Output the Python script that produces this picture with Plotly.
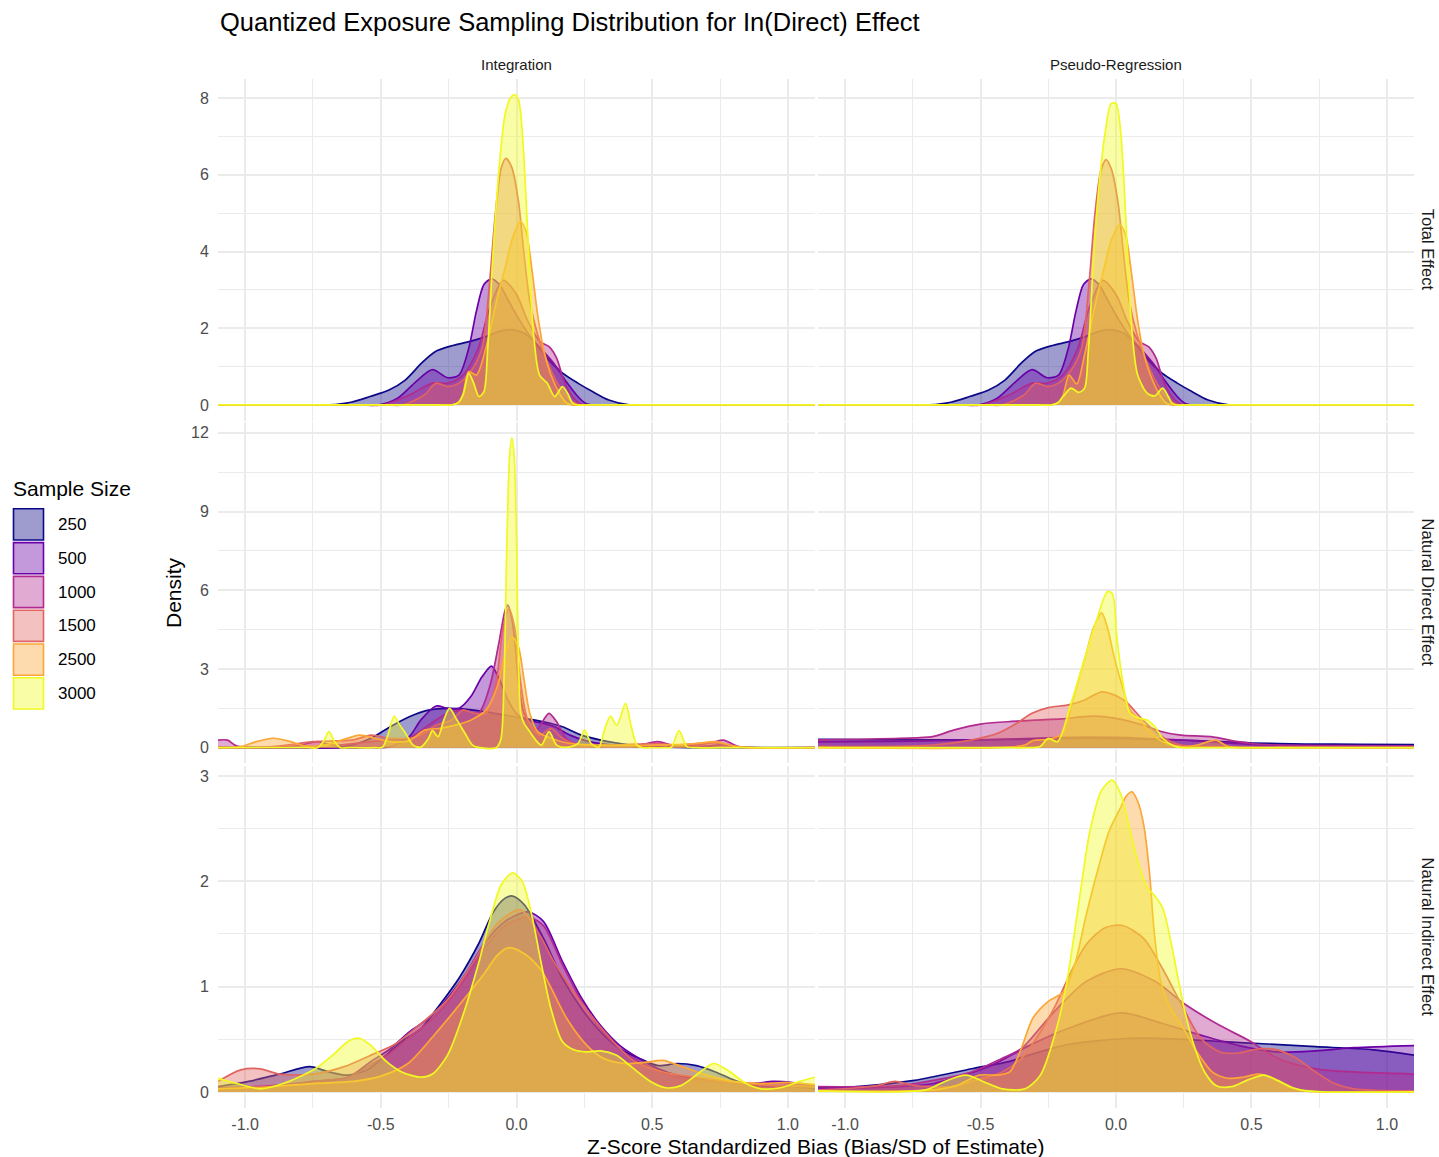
import plotly.graph_objects as go

W, H = 1439, 1157

# ---------------- data ----------------
SAMPLE_SIZES = ["250", "500", "1000", "1500", "2500", "3000"]
COLORS = ["#0D0887", "#6A00A8", "#B12A90", "#E16462", "#FCA636", "#F0F921"]
FILL_ALPHA = 0.4

COLUMNS = ["Integration", "Pseudo-Regression"]
ROWS = ["Total Effect", "Natural Direct Effect", "Natural Indirect Effect"]

X_TICKS = [-1.0, -0.5, 0.0, 0.5, 1.0]
X_TICK_LABELS = ["-1.0", "-0.5", "0.0", "0.5", "1.0"]
X_MINOR = [-0.75, -0.25, 0.25, 0.75]
Y_TICKS_TE = [0, 2, 4, 6, 8]
Y_MINOR_TE = [1, 3, 5, 7]
Y_TICKS_NDE = [0, 3, 6, 9, 12]
Y_MINOR_NDE = [1.5, 4.5, 7.5, 10.5]
Y_TICKS_NIE = [0, 1, 2, 3]
Y_MINOR_NIE = [0.5, 1.5, 2.5]

# ---- Total Effect / Integration : (bias z-score, density)
TE_INT_250 = [(-1.1, 0), (-0.8, 0), (-0.69, 0), (-0.61, 0.07), (-0.54, 0.22), (-0.47, 0.39), (-0.41, 0.65),
              (-0.35, 1.09), (-0.30, 1.39), (-0.24, 1.54), (-0.17, 1.66), (-0.11, 1.79), (-0.056, 1.93),
              (-0.014, 1.96), (0.028, 1.87), (0.07, 1.61), (0.113, 1.22), (0.17, 0.83), (0.226, 0.57),
              (0.28, 0.35), (0.34, 0.13), (0.41, 0.01), (0.47, 0), (0.8, 0), (1.1, 0)]
TE_INT_500 = [(-1.1, 0), (-0.58, 0), (-0.51, 0), (-0.44, 0.17), (-0.37, 0.61), (-0.31, 0.92), (-0.254, 0.71),
              (-0.212, 0.78), (-0.176, 1.48), (-0.148, 2.44), (-0.12, 3.14), (-0.092, 3.29), (-0.063, 3.14),
              (-0.028, 2.70), (0.014, 2.18), (0.056, 1.74), (0.10, 1.39), (0.141, 1.05), (0.183, 0.61),
              (0.226, 0.22), (0.255, 0.04), (0.28, 0.0), (0.33, 0), (0.8, 0), (1.1, 0)]
TE_INT_1000 = [(-1.1, 0), (-0.56, 0), (-0.494, 0), (-0.395, 0.26), (-0.31, 0.57), (-0.254, 0.57), (-0.197, 0.78),
               (-0.141, 1.48), (-0.099, 2.53), (-0.049, 3.25), (0.0, 2.88), (0.042, 2.18), (0.085, 1.66),
               (0.12, 1.52), (0.148, 1.22), (0.176, 0.61), (0.212, 0.17), (0.24, 0.02), (0.26, 0), (0.31, 0),
               (0.8, 0), (1.1, 0)]
TE_INT_1500 = [(-1.1, 0), (-0.48, 0), (-0.42, 0), (-0.34, 0.26), (-0.296, 0.57), (-0.254, 0.48), (-0.212, 0.57),
               (-0.169, 0.87), (-0.127, 1.48), (-0.099, 3.22), (-0.078, 4.97), (-0.056, 6.19), (-0.039, 6.43),
               (-0.017, 6.19), (0.007, 5.32), (0.028, 3.92), (0.049, 2.70), (0.078, 1.83), (0.113, 1.13),
               (0.155, 0.52), (0.197, 0.13), (0.225, 0.02), (0.245, 0), (0.3, 0), (0.8, 0), (1.1, 0)]
TE_INT_2500 = [(-1.1, 0), (-0.29, 0), (-0.24, 0), (-0.215, 0.06), (-0.197, 0.30), (-0.176, 0.87), (-0.148, 0.78),
               (-0.113, 1.48), (-0.071, 2.79), (-0.042, 3.57), (-0.014, 4.36), (0.014, 4.79), (0.035, 4.53),
               (0.056, 3.57), (0.078, 2.35), (0.099, 1.48), (0.127, 0.78), (0.162, 0.26), (0.185, 0.05),
               (0.205, 0), (0.25, 0), (0.8, 0), (1.1, 0)]
TE_INT_3000 = [(-1.1, 0), (-0.29, 0), (-0.24, 0), (-0.215, 0.06), (-0.197, 0.26), (-0.176, 0.83), (-0.158, 0.57),
               (-0.138, 0.22), (-0.12, 0.35), (-0.106, 1.48), (-0.085, 4.10), (-0.063, 6.27), (-0.042, 7.58),
               (-0.021, 8.02), (-0.007, 8.09), (0.007, 7.97), (0.021, 7.15), (0.035, 5.40), (0.049, 3.40),
               (0.063, 1.83), (0.085, 0.78), (0.113, 0.57), (0.141, 0.22), (0.169, 0.48), (0.19, 0.28),
               (0.205, 0.06), (0.222, 0), (0.26, 0), (0.8, 0), (1.1, 0)]

# ---- Total Effect / Pseudo-Regression
TE_PR_250 = [(-1.1, 0), (-0.8, 0), (-0.69, 0), (-0.61, 0.07), (-0.54, 0.22), (-0.47, 0.39), (-0.41, 0.65),
             (-0.35, 1.09), (-0.30, 1.39), (-0.24, 1.54), (-0.17, 1.66), (-0.11, 1.79), (-0.056, 1.93),
             (-0.014, 1.96), (0.028, 1.87), (0.07, 1.61), (0.113, 1.22), (0.17, 0.83), (0.226, 0.57),
             (0.28, 0.35), (0.34, 0.13), (0.41, 0.01), (0.47, 0), (0.8, 0), (1.1, 0)]
TE_PR_500 = [(-1.1, 0), (-0.58, 0), (-0.51, 0), (-0.44, 0.17), (-0.37, 0.61), (-0.31, 0.92), (-0.254, 0.71),
             (-0.212, 0.78), (-0.176, 1.48), (-0.148, 2.44), (-0.12, 3.14), (-0.092, 3.29), (-0.063, 3.14),
             (-0.028, 2.70), (0.014, 2.18), (0.056, 1.74), (0.10, 1.39), (0.141, 1.05), (0.183, 0.61),
             (0.226, 0.22), (0.255, 0.04), (0.28, 0.0), (0.33, 0), (0.8, 0), (1.1, 0)]
TE_PR_1000 = [(-1.1, 0), (-0.56, 0), (-0.494, 0), (-0.395, 0.26), (-0.31, 0.57), (-0.254, 0.57), (-0.197, 0.78),
              (-0.141, 1.48), (-0.099, 2.53), (-0.049, 3.25), (0.0, 2.88), (0.042, 2.18), (0.085, 1.66),
              (0.12, 1.52), (0.148, 1.22), (0.176, 0.61), (0.212, 0.17), (0.24, 0.02), (0.26, 0), (0.31, 0),
              (0.8, 0), (1.1, 0)]
TE_PR_1500 = [(-1.1, 0), (-0.48, 0), (-0.42, 0), (-0.34, 0.26), (-0.296, 0.57), (-0.254, 0.48), (-0.212, 0.57),
              (-0.169, 0.87), (-0.127, 1.48), (-0.099, 3.22), (-0.078, 4.97), (-0.056, 6.10), (-0.037, 6.40),
              (-0.017, 6.15), (0.007, 5.30), (0.028, 3.92), (0.049, 2.70), (0.078, 1.83), (0.113, 1.13),
              (0.155, 0.52), (0.197, 0.13), (0.225, 0.02), (0.245, 0), (0.3, 0), (0.8, 0), (1.1, 0)]
TE_PR_2500 = [(-1.1, 0), (-0.29, 0), (-0.24, 0), (-0.213, 0.06), (-0.195, 0.26), (-0.173, 0.78), (-0.145, 0.55),
              (-0.116, 1.31), (-0.074, 2.70), (-0.046, 3.50), (-0.017, 4.30), (0.014, 4.70), (0.035, 4.45),
              (0.056, 3.50), (0.078, 2.30), (0.099, 1.45), (0.127, 0.78), (0.162, 0.26), (0.185, 0.05),
              (0.205, 0), (0.25, 0), (0.8, 0), (1.1, 0)]
TE_PR_3000 = [(-1.1, 0), (-0.29, 0), (-0.24, 0), (-0.215, 0.06), (-0.195, 0.22), (-0.166, 0.44), (-0.138, 0.33),
              (-0.116, 0.44), (-0.103, 1.31), (-0.082, 3.92), (-0.061, 5.84), (-0.039, 7.15), (-0.018, 7.86),
              (0.0, 7.86), (0.017, 7.15), (0.031, 5.58), (0.045, 3.57), (0.059, 1.92), (0.080, 0.78),
              (0.116, 0.30), (0.144, 0.24), (0.172, 0.44), (0.193, 0.22), (0.207, 0.04), (0.222, 0),
              (0.26, 0), (0.8, 0), (1.1, 0)]

# ---- Natural Direct Effect / Integration
NDE_INT_250 = [(-1.1, 0), (-0.76, 0), (-0.68, 0.0), (-0.606, 0.10), (-0.536, 0.36), (-0.465, 0.80),
               (-0.395, 1.18), (-0.324, 1.43), (-0.254, 1.50), (-0.183, 1.46), (-0.113, 1.37), (-0.042, 1.24),
               (0.028, 1.12), (0.099, 0.99), (0.169, 0.80), (0.24, 0.48), (0.31, 0.29), (0.381, 0.16),
               (0.451, 0.08), (0.52, 0.04), (0.6, 0.01), (0.7, 0), (1.1, 0)]
NDE_INT_500 = [(-1.1, 0), (-0.55, 0), (-0.465, 0.04), (-0.395, 0.42), (-0.353, 1.05), (-0.296, 1.59),
               (-0.254, 1.50), (-0.212, 1.50), (-0.169, 1.94), (-0.127, 2.70), (-0.092, 3.11), (-0.063, 2.60),
               (-0.035, 1.90), (0.0, 1.30), (0.042, 1.05), (0.099, 0.93), (0.141, 0.80), (0.197, 0.48),
               (0.254, 0.27), (0.31, 0.16), (0.38, 0.08), (0.5, 0.04), (0.7, 0.06), (0.76, 0.12), (0.82, 0.02),
               (0.87, 0), (1.1, 0)]
NDE_INT_1000 = [(-1.1, 0.29), (-1.065, 0.29), (-1.03, 0.06), (-0.818, 0.06), (-0.733, 0.23), (-0.677, 0.10),
                (-0.536, 0.23), (-0.465, 0.29), (-0.395, 0.36), (-0.324, 0.86), (-0.254, 1.31), (-0.197, 1.43),
                (-0.141, 1.31), (-0.099, 2.32), (-0.063, 4.10), (-0.042, 5.24), (-0.032, 5.43), (-0.014, 4.73),
                (0.007, 2.58), (0.028, 1.31), (0.071, 0.67), (0.099, 1.05), (0.12, 1.31), (0.148, 0.99),
                (0.183, 0.36), (0.24, 0.10), (0.45, 0.10), (0.52, 0.23), (0.59, 0.06), (0.72, 0.19),
                (0.762, 0.29), (0.818, 0.04), (0.87, 0), (1.1, 0)]
NDE_INT_1500 = [(-1.1, 0), (-0.9, 0.04), (-0.748, 0.23), (-0.606, 0.29), (-0.536, 0.48), (-0.465, 0.36),
                (-0.367, 0.42), (-0.296, 0.86), (-0.24, 1.05), (-0.197, 1.43), (-0.155, 1.31), (-0.113, 1.31),
                (-0.078, 2.32), (-0.049, 4.60), (-0.028, 5.30), (-0.007, 4.60), (0.014, 2.58), (0.042, 1.05),
                (0.085, 0.48), (0.127, 0.74), (0.169, 0.36), (0.24, 0.10), (0.522, 0.16), (0.592, 0.10),
                (0.733, 0.19), (0.818, 0.04), (0.87, 0), (1.1, 0)]
NDE_INT_2500 = [(-1.1, 0), (-1.016, 0.04), (-0.959, 0.23), (-0.896, 0.36), (-0.832, 0.23), (-0.776, 0.06),
                (-0.705, 0.10), (-0.649, 0.27), (-0.578, 0.48), (-0.522, 0.36), (-0.465, 0.23), (-0.395, 0.27),
                (-0.339, 0.67), (-0.282, 0.74), (-0.226, 0.86), (-0.169, 1.05), (-0.113, 1.43), (-0.071, 2.32),
                (-0.042, 3.59), (-0.017, 4.22), (0.007, 3.84), (0.028, 2.58), (0.049, 1.31), (0.078, 0.61),
                (0.127, 0.36), (0.197, 0.16), (0.31, 0.10), (0.522, 0.10), (0.663, 0.16), (0.733, 0.23),
                (0.80, 0.06), (0.85, 0), (1.1, 0)]
NDE_INT_3000 = [(-1.1, 0), (-0.77, 0), (-0.733, 0), (-0.712, 0.23), (-0.691, 0.61), (-0.670, 0.23),
                (-0.649, 0), (-0.62, 0), (-0.52, 0), (-0.494, 0.02), (-0.472, 0.55), (-0.451, 1.20),
                (-0.43, 0.86), (-0.409, 0.55), (-0.381, 0.10), (-0.353, 0.02), (-0.324, 0.36), (-0.31, 0.65),
                (-0.289, 0.42), (-0.268, 1.05), (-0.247, 1.50), (-0.219, 1.05), (-0.19, 0.55), (-0.162, 0.10),
                (-0.135, 0), (-0.075, 0), (-0.058, 0.3), (-0.045, 3.0), (-0.035, 8.0), (-0.025, 11.2),
                (-0.017, 11.81), (-0.009, 11.2), (0.0, 8.0), (0.008, 3.0), (0.016, 1.3), (0.028, 0.93),
                (0.049, 0.61), (0.071, 0.29), (0.092, 0.10), (0.12, 0.61), (0.148, 0.10), (0.183, 0.01),
                (0.226, 0.16), (0.251, 0.67), (0.275, 0.16), (0.303, 0.02), (0.324, 0.67), (0.346, 1.20),
                (0.37, 0.86), (0.402, 1.69), (0.423, 0.80), (0.444, 0.10), (0.465, 0), (0.49, 0), (0.55, 0),
                (0.571, 0.02), (0.599, 0.65), (0.628, 0.04), (0.66, 0), (0.75, 0), (1.1, 0)]

# ---- Natural Direct Effect / Pseudo-Regression
NDE_PR_250 = [(-1.1, 0.32), (-0.8, 0.30), (-0.5, 0.30), (-0.3, 0.33), (-0.1, 0.36), (0.1, 0.33), (0.3, 0.27),
              (0.5, 0.18), (0.7, 0.14), (0.9, 0.13), (1.1, 0.12)]
NDE_PR_500 = [(-1.1, 0.22), (-0.8, 0.24), (-0.5, 0.30), (-0.3, 0.36), (-0.1, 0.40), (0.1, 0.36), (0.3, 0.26),
              (0.5, 0.13), (0.7, 0.09), (0.9, 0.08), (1.1, 0.07)]
NDE_PR_1000 = [(-1.1, 0.30), (-0.8, 0.36), (-0.677, 0.42), (-0.6, 0.67), (-0.5, 0.90), (-0.4, 0.99),
               (-0.3, 1.05), (-0.2, 1.10), (-0.085, 1.20), (0.0, 1.12), (0.1, 0.86), (0.17, 0.61),
               (0.24, 0.48), (0.35, 0.42), (0.45, 0.23), (0.5, 0.16), (0.6, 0.10), (0.8, 0.08), (1.1, 0.06)]
NDE_PR_1500 = [(-1.1, 0.04), (-0.677, 0.10), (-0.536, 0.29), (-0.437, 0.55), (-0.367, 0.93), (-0.31, 1.31),
               (-0.25, 1.53), (-0.18, 1.62), (-0.12, 1.80), (-0.05, 2.13), (0.03, 1.81), (0.1, 1.05),
               (0.17, 0.42), (0.24, 0.10), (0.35, 0.04), (0.6, 0.01), (1.1, 0.0)]
NDE_PR_2500 = [(-1.1, 0), (-0.45, 0), (-0.336, 0.10), (-0.307, 0.27), (-0.25, 0.32), (-0.195, 0.55),
               (-0.16, 1.81), (-0.11, 3.59), (-0.082, 4.60), (-0.053, 5.14), (-0.032, 4.60), (-0.004, 3.33),
               (0.024, 2.32), (0.052, 1.43), (0.088, 1.05), (0.13, 0.55), (0.173, 0.23), (0.24, 0.04),
               (0.3, 0.10), (0.368, 0.29), (0.41, 0.06), (0.45, 0.0), (0.6, 0), (1.1, 0)]
NDE_PR_3000 = [(-1.1, 0), (-0.4, 0), (-0.336, 0), (-0.28, 0.05), (-0.25, 0.36), (-0.216, 0.23), (-0.166, 1.69),
               (-0.11, 3.59), (-0.068, 4.98), (-0.032, 5.94), (-0.014, 5.88), (0.003, 4.22), (0.024, 2.58),
               (0.052, 1.31), (0.088, 1.12), (0.116, 1.05), (0.144, 0.80), (0.172, 0.36), (0.215, 0.06),
               (0.243, 0), (0.3, 0), (1.1, 0)]

# ---- Natural Indirect Effect / Integration
NIE_INT_250 = [(-1.1, 0.05), (-0.987, 0.10), (-0.874, 0.17), (-0.762, 0.24), (-0.691, 0.19), (-0.621, 0.16),
               (-0.55, 0.21), (-0.494, 0.32), (-0.423, 0.48), (-0.353, 0.60), (-0.282, 0.83), (-0.212, 1.08),
               (-0.141, 1.40), (-0.085, 1.71), (-0.042, 1.84), (-0.014, 1.86), (0.028, 1.78), (0.099, 1.46),
               (0.169, 1.08), (0.24, 0.79), (0.31, 0.57), (0.381, 0.41), (0.451, 0.32), (0.522, 0.25),
               (0.592, 0.27), (0.663, 0.25), (0.733, 0.19), (0.804, 0.11), (0.874, 0.06), (1.016, 0.05),
               (1.1, 0.03)]
NIE_INT_500 = [(-1.1, 0.03), (-0.9, 0.05), (-0.75, 0.10), (-0.62, 0.14), (-0.536, 0.29), (-0.465, 0.41),
               (-0.395, 0.57), (-0.324, 0.70), (-0.254, 0.89), (-0.183, 1.14), (-0.113, 1.43), (-0.042, 1.62),
               (0.042, 1.71), (0.099, 1.62), (0.169, 1.24), (0.24, 0.89), (0.31, 0.63), (0.381, 0.44),
               (0.451, 0.32), (0.522, 0.22), (0.592, 0.16), (0.733, 0.11), (0.874, 0.08), (0.945, 0.10),
               (1.016, 0.09), (1.1, 0.06)]
NIE_INT_1000 = [(-1.1, 0.04), (-0.9, 0.06), (-0.75, 0.10), (-0.62, 0.14), (-0.536, 0.26), (-0.465, 0.37),
                (-0.395, 0.52), (-0.324, 0.66), (-0.254, 0.85), (-0.183, 1.10), (-0.113, 1.38), (-0.042, 1.58),
                (0.042, 1.66), (0.099, 1.58), (0.169, 1.21), (0.24, 0.86), (0.31, 0.60), (0.381, 0.41),
                (0.451, 0.29), (0.522, 0.20), (0.592, 0.14), (0.733, 0.10), (0.874, 0.08), (0.945, 0.09),
                (1.016, 0.08), (1.1, 0.06)]
NIE_INT_1500 = [(-1.1, 0.10), (-1.016, 0.21), (-0.945, 0.22), (-0.874, 0.17), (-0.748, 0.17), (-0.635, 0.24),
                (-0.536, 0.35), (-0.45, 0.45), (-0.38, 0.59), (-0.256, 0.87), (-0.158, 1.24), (-0.07, 1.60),
                (0.015, 1.73), (0.09, 1.47), (0.137, 1.24), (0.236, 0.86), (0.335, 0.54), (0.43, 0.30),
                (0.54, 0.19), (0.663, 0.14), (0.804, 0.09), (0.945, 0.06), (1.1, 0.05)]
NIE_INT_2500 = [(-1.1, 0.03), (-0.9, 0.05), (-0.75, 0.08), (-0.6, 0.10), (-0.5, 0.15), (-0.4, 0.27),
                (-0.3, 0.55), (-0.2, 0.86), (-0.12, 1.12), (-0.07, 1.30), (-0.028, 1.37), (0.03, 1.31),
                (0.09, 1.16), (0.187, 0.69), (0.26, 0.44), (0.32, 0.32), (0.4, 0.27), (0.47, 0.28),
                (0.54, 0.30), (0.6, 0.25), (0.7, 0.16), (0.8, 0.10), (0.9, 0.08), (1.0, 0.09), (1.1, 0.07)]
NIE_INT_3000 = [(-1.1, 0.13), (-1.03, 0.08), (-0.945, 0.03), (-0.86, 0.08), (-0.748, 0.21), (-0.677, 0.35),
                (-0.621, 0.48), (-0.578, 0.51), (-0.536, 0.44), (-0.48, 0.29), (-0.423, 0.19), (-0.353, 0.14),
                (-0.31, 0.17), (-0.254, 0.35), (-0.197, 0.73), (-0.141, 1.21), (-0.099, 1.62), (-0.056, 1.97),
                (-0.014, 2.08), (0.021, 2.00), (0.056, 1.68), (0.092, 1.21), (0.127, 0.79), (0.169, 0.48),
                (0.212, 0.40), (0.254, 0.38), (0.31, 0.39), (0.367, 0.35), (0.423, 0.24), (0.494, 0.10),
                (0.55, 0.04), (0.606, 0.06), (0.677, 0.19), (0.726, 0.27), (0.776, 0.21), (0.846, 0.08),
                (0.903, 0.03), (0.973, 0.04), (1.044, 0.10), (1.1, 0.14)]

# ---- Natural Indirect Effect / Pseudo-Regression
NIE_PR_250 = [(-1.1, 0.04), (-0.955, 0.05), (-0.744, 0.11), (-0.533, 0.22), (-0.392, 0.29), (-0.321, 0.35),
              (-0.18, 0.45), (0.059, 0.51), (0.243, 0.50), (0.384, 0.48), (0.525, 0.46), (0.737, 0.43),
              (0.949, 0.40), (1.1, 0.35)]
NIE_PR_500 = [(-1.1, 0.03), (-0.8, 0.05), (-0.674, 0.08), (-0.462, 0.25), (-0.321, 0.44), (-0.18, 0.60),
              (0.017, 0.75), (0.172, 0.65), (0.313, 0.54), (0.454, 0.44), (0.596, 0.38), (0.737, 0.39),
              (0.878, 0.42), (1.1, 0.44)]
NIE_PR_1000 = [(-1.1, 0.05), (-0.8, 0.06), (-0.674, 0.11), (-0.533, 0.19), (-0.42, 0.32), (-0.35, 0.41),
               (-0.25, 0.70), (-0.18, 0.89), (-0.11, 1.05), (0.017, 1.17), (0.144, 1.05), (0.256, 0.83),
               (0.384, 0.63), (0.497, 0.48), (0.596, 0.32), (0.737, 0.22), (0.878, 0.19), (1.1, 0.17)]
NIE_PR_1500 = [(-1.1, 0.02), (-0.955, 0.04), (-0.885, 0.06), (-0.815, 0.10), (-0.744, 0.06), (-0.6, 0.05),
               (-0.533, 0.10), (-0.42, 0.19), (-0.349, 0.32), (-0.279, 0.57), (-0.222, 0.83), (-0.166, 1.14),
               (-0.11, 1.40), (-0.04, 1.56), (0.024, 1.58), (0.101, 1.46), (0.172, 1.17), (0.242, 0.83),
               (0.313, 0.51), (0.384, 0.38), (0.454, 0.37), (0.525, 0.41), (0.596, 0.40), (0.666, 0.32),
               (0.737, 0.19), (0.807, 0.08), (0.878, 0.03), (1.1, 0.01)]
NIE_PR_2500 = [(-1.1, 0.01), (-0.674, 0.02), (-0.59, 0.06), (-0.505, 0.16), (-0.435, 0.16), (-0.392, 0.19),
               (-0.35, 0.41), (-0.307, 0.70), (-0.25, 0.86), (-0.194, 0.95), (-0.152, 1.21), (-0.11, 1.68),
               (-0.068, 2.10), (-0.025, 2.48), (0.017, 2.70), (0.038, 2.81), (0.059, 2.85), (0.08, 2.76),
               (0.102, 2.54), (0.123, 2.10), (0.141, 1.52), (0.165, 1.05), (0.2, 0.80), (0.243, 0.63),
               (0.299, 0.38), (0.355, 0.19), (0.412, 0.13), (0.468, 0.14), (0.525, 0.17), (0.581, 0.13),
               (0.638, 0.05), (0.694, 0.01), (0.75, 0), (1.1, 0)]
NIE_PR_3000 = [(-1.1, 0.01), (-0.702, 0.02), (-0.632, 0.10), (-0.554, 0.16), (-0.491, 0.10), (-0.42, 0.03),
               (-0.335, 0.03), (-0.279, 0.16), (-0.223, 0.57), (-0.181, 1.05), (-0.138, 1.78), (-0.096, 2.48),
               (-0.054, 2.86), (-0.014, 2.96), (0.017, 2.83), (0.052, 2.48), (0.087, 2.13), (0.116, 1.94),
               (0.144, 1.86), (0.172, 1.75), (0.2, 1.46), (0.229, 1.08), (0.257, 0.73), (0.292, 0.41),
               (0.327, 0.19), (0.37, 0.06), (0.426, 0.05), (0.483, 0.11), (0.546, 0.16), (0.596, 0.11),
               (0.652, 0.04), (0.708, 0.01), (0.76, 0), (1.1, 0.0)]

PANELS = [
    [[TE_INT_250, TE_INT_500, TE_INT_1000, TE_INT_1500, TE_INT_2500, TE_INT_3000],
     [TE_PR_250, TE_PR_500, TE_PR_1000, TE_PR_1500, TE_PR_2500, TE_PR_3000]],
    [[NDE_INT_250, NDE_INT_500, NDE_INT_1000, NDE_INT_1500, NDE_INT_2500, NDE_INT_3000],
     [NDE_PR_250, NDE_PR_500, NDE_PR_1000, NDE_PR_1500, NDE_PR_2500, NDE_PR_3000]],
    [[NIE_INT_250, NIE_INT_500, NIE_INT_1000, NIE_INT_1500, NIE_INT_2500, NIE_INT_3000],
     [NIE_PR_250, NIE_PR_500, NIE_PR_1000, NIE_PR_1500, NIE_PR_2500, NIE_PR_3000]],
]
Y_TICKS = [Y_TICKS_TE, Y_TICKS_NDE, Y_TICKS_NIE]
Y_MINOR = [Y_MINOR_TE, Y_MINOR_NDE, Y_MINOR_NIE]

# ---------------- layout geometry (pixels) ----------------
COL_PX = [(218, 815), (818, 1414)]
ROW_PX = [(79, 420.5), (422, 763.2), (765.7, 1107.5)]
Y_RANGES = [(-0.405, 8.5), (-0.59, 12.41), (-0.1475, 3.0975)]
X_RANGE = (-1.1, 1.1)

FONT = "Liberation Sans, Arial, Helvetica, sans-serif"
GRID = "#EBEBEB"


def px_x(p):
    return p / W


def px_y(p):
    return 1 - p / H


def rgba(hex_color, a):
    h = hex_color.lstrip("#")
    r, g, b = int(h[0:2], 16), int(h[2:4], 16), int(h[4:6], 16)
    return f"rgba({r},{g},{b},{a})"


fig = go.Figure()
layout_axes = {}

for r in range(3):
    for c in range(2):
        k = r * 2 + c + 1
        xa = "x" if k == 1 else f"x{k}"
        ya = "y" if k == 1 else f"y{k}"
        for curve, color, size in zip(PANELS[r][c], COLORS, SAMPLE_SIZES):
            xs = [p[0] for p in curve]
            ys = [p[1] for p in curve]
            fig.add_trace(go.Scatter(
                x=xs, y=ys, xaxis=xa, yaxis=ya, mode="lines",
                line=dict(color=color, width=1.7, shape="spline", smoothing=0.8),
                fill="tozeroy", fillcolor=rgba(color, FILL_ALPHA),
                name=size, showlegend=False, hoverinfo="skip"))

        x0, x1 = COL_PX[c]
        y0, y1 = ROW_PX[r]
        layout_axes["xaxis" if k == 1 else f"xaxis{k}"] = dict(
            domain=[px_x(x0), px_x(x1)], range=list(X_RANGE), anchor=ya,
            tickmode="array", tickvals=X_TICKS, ticktext=X_TICK_LABELS,
            showticklabels=(r == 2), ticks="outside" if r == 2 else "", ticklen=2,
            tickcolor="rgba(0,0,0,0)",
            tickfont=dict(family=FONT, size=16, color="#4D4D4D"),
            showgrid=True, gridcolor=GRID, gridwidth=1.5, zeroline=False, showline=False,
            minor=dict(tickmode="array", tickvals=X_MINOR, showgrid=True, gridcolor=GRID, gridwidth=0.8),
            fixedrange=True)
        layout_axes["yaxis" if k == 1 else f"yaxis{k}"] = dict(
            domain=[px_y(y1), px_y(y0)], range=list(Y_RANGES[r]), anchor=xa,
            tickmode="array", tickvals=Y_TICKS[r], ticktext=[str(v) for v in Y_TICKS[r]],
            showticklabels=(c == 0), ticks="outside" if c == 0 else "", ticklen=5,
            tickcolor="rgba(0,0,0,0)",
            tickfont=dict(family=FONT, size=16, color="#4D4D4D"),
            showgrid=True, gridcolor=GRID, gridwidth=1.5, zeroline=False, showline=False,
            minor=dict(tickmode="array", tickvals=Y_MINOR[r], showgrid=True, gridcolor=GRID, gridwidth=0.8),
            fixedrange=True)

annotations = []
shapes = []

# title
annotations.append(dict(text="Quantized Exposure Sampling Distribution for In(Direct) Effect",
                        x=px_x(218), y=px_y(22), xref="paper", yref="paper", xanchor="left", yanchor="middle",
                        showarrow=False, font=dict(family=FONT, size=25.5, color="#000000")))
# column strips
for c, name in enumerate(COLUMNS):
    x0, x1 = COL_PX[c]
    annotations.append(dict(text=name, x=px_x((x0 + x1) / 2), y=px_y(64), xref="paper", yref="paper",
                            xanchor="center", yanchor="middle", showarrow=False,
                            font=dict(family=FONT, size=15, color="#1A1A1A")))
# row strips
for r, name in enumerate(ROWS):
    y0, y1 = ROW_PX[r]
    annotations.append(dict(text=name, x=px_x(1428), y=px_y((y0 + y1) / 2), xref="paper", yref="paper",
                            xanchor="center", yanchor="middle", showarrow=False, textangle=90,
                            font=dict(family=FONT, size=16.5, color="#1A1A1A")))
# axis titles
annotations.append(dict(text="Z-Score Standardized Bias (Bias/SD of Estimate)", x=px_x(816), y=px_y(1146),
                        xref="paper", yref="paper", xanchor="center", yanchor="middle", showarrow=False,
                        font=dict(family=FONT, size=21, color="#000000")))
annotations.append(dict(text="Density", x=px_x(173), y=px_y(593), xref="paper", yref="paper",
                        xanchor="center", yanchor="middle", showarrow=False, textangle=-90,
                        font=dict(family=FONT, size=21, color="#000000")))

# manual legend
annotations.append(dict(text="Sample Size", x=px_x(11), y=px_y(488), xref="paper", yref="paper",
                        xanchor="left", yanchor="middle", showarrow=False,
                        font=dict(family=FONT, size=21, color="#000000")))
for i, (size, color) in enumerate(zip(SAMPLE_SIZES, COLORS)):
    top = 508 + i * 33.8
    shapes.append(dict(type="rect", xref="paper", yref="paper",
                       x0=px_x(13.5), x1=px_x(43.5), y0=px_y(top + 32), y1=px_y(top + 0.8),
                       fillcolor=rgba(color, FILL_ALPHA), line=dict(color=color, width=1.6)))
    annotations.append(dict(text=size, x=px_x(56), y=px_y(top + 16.5), xref="paper", yref="paper",
                            xanchor="left", yanchor="middle", showarrow=False,
                            font=dict(family=FONT, size=17, color="#000000")))

fig.update_layout(
    width=W, height=H, margin=dict(l=0, r=0, t=0, b=0),
    paper_bgcolor="white", plot_bgcolor="white",
    showlegend=False, annotations=annotations, shapes=shapes,
    font=dict(family=FONT),
    **layout_axes)

fig.write_html("out.html")
